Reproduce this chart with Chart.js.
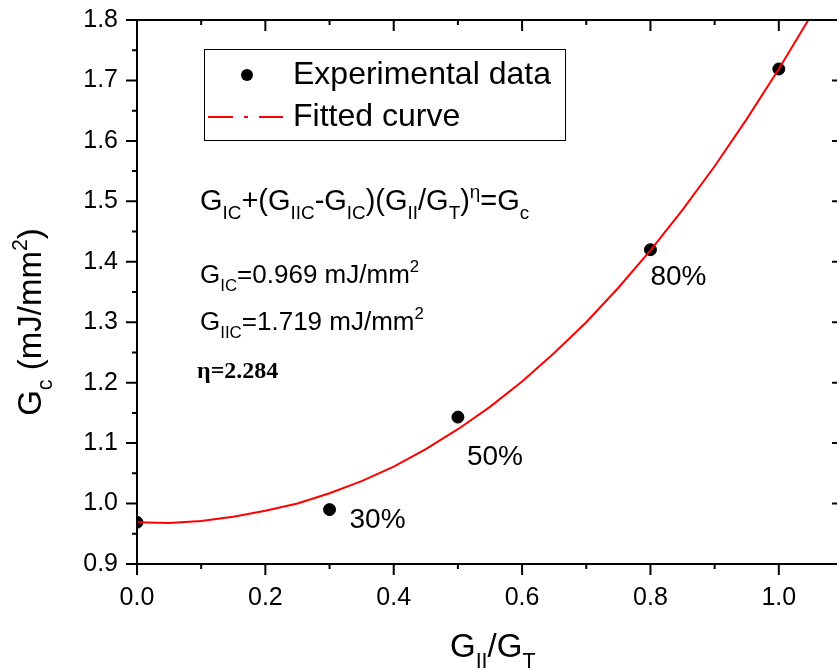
<!DOCTYPE html>
<html>
<head>
<meta charset="utf-8">
<script src="https://cdn.jsdelivr.net/npm/chart.js@4.4.1/dist/chart.umd.min.js"></script>
<style>
  html, body { margin: 0; padding: 0; background: #fff; overflow: hidden; }
  #wrap { width: 850px; height: 670px; }
</style>
</head>
<body>
<div id="wrap"><canvas id="grafico" width="850" height="670"></canvas></div>
<script>
// dados experimentais (G_II/G_T, Gc)
const ratios = [0, 0.3, 0.5, 0.8, 1.0];
const gcMeasured = [0.969, 0.99, 1.143, 1.42, 1.719];
const pointLabels = ["", "30%", "50%", "80%", ""];

// curva ajustada
const fitX = [0, 0.05, 0.1, 0.15, 0.2, 0.25, 0.3, 0.35, 0.4, 0.45, 0.5, 0.55,
              0.6, 0.65, 0.7, 0.75, 0.8, 0.85, 0.9, 0.95, 1.0, 1.05];
const fitY = [0.969, 0.968, 0.971, 0.978, 0.988, 1.000, 1.017, 1.037, 1.061, 1.090, 1.123, 1.160,
              1.202, 1.249, 1.300, 1.357, 1.419, 1.486, 1.558, 1.636, 1.719, 1.807];

const xTicks = [0, 0.2, 0.4, 0.6, 0.8, 1.0];
const yTicks = [0.9, 1.0, 1.1, 1.2, 1.3, 1.4, 1.5, 1.6, 1.7, 1.8];

const FONT = "'Liberation Sans', Arial, sans-serif";
const labelOffsets = [[0, 0], [20, 18], [9, 48], [0, 35], [0, 0]];

// desenha texto com subscrito / sobrescrito
function textoRico(ctx, x, y, partes, size, family, weight) {
  family = family || FONT;
  weight = weight || "normal";
  ctx.textBaseline = "alphabetic";
  ctx.textAlign = "left";
  partes.forEach(p => {
    let s = size, dy = 0;
    if (p[1] === "sub") { s = size * 0.65; dy = size * 0.32; }
    if (p[1] === "sup") { s = size * 0.65; dy = -size * 0.42; }
    ctx.font = weight + " " + s + "px " + family;
    ctx.fillText(p[0], x, y + dy);
    x += ctx.measureText(p[0]).width;
  });
  return x;
}

function larguraRica(ctx, partes, size) {
  let w = 0;
  partes.forEach(p => {
    let s = (p[1] === "sub" || p[1] === "sup") ? size * 0.65 : size;
    ctx.font = s + "px " + FONT;
    w += ctx.measureText(p[0]).width;
  });
  return w;
}

const molduraPlugin = {
  id: "moldura",
  afterDraw(chart) {
    const ctx = chart.ctx;
    const a = chart.chartArea;
    const xs = chart.scales.x, ys = chart.scales.y;
    ctx.save();
    ctx.strokeStyle = "#000";
    ctx.lineWidth = 2;
    ctx.strokeRect(a.left, a.top, a.right - a.left, a.bottom - a.top);

    // ticks do eixo x (baixo para fora, topo para dentro)
    for (let i = 0; i <= 11; i++) {
      const v = i / 10;
      const px = xs.getPixelForValue(v);
      const len = (i % 2 === 0) ? 11 : 5;
      ctx.beginPath();
      ctx.moveTo(px, a.bottom); ctx.lineTo(px, a.bottom + len);
      ctx.moveTo(px, a.top); ctx.lineTo(px, a.top + len);
      ctx.stroke();
    }
    // ticks do eixo y
    for (let i = 0; i <= 18; i++) {
      const v = 0.9 + i * 0.05;
      const py = ys.getPixelForValue(v);
      const len = (i % 2 === 0) ? 11 : 5;
      ctx.beginPath();
      ctx.moveTo(a.left - len, py); ctx.lineTo(a.left, py);
      ctx.moveTo(a.right - len, py); ctx.lineTo(a.right, py);
      ctx.stroke();
    }

    // legenda
    ctx.lineWidth = 1;
    ctx.strokeStyle = "#000";
    ctx.strokeRect(204.5, 49.5, 361, 91);
    ctx.fillStyle = "#000";
    ctx.beginPath();
    ctx.arc(247, 75, 6, 0, Math.PI * 2);
    ctx.fill();
    ctx.strokeStyle = "#ff0000";
    ctx.lineWidth = 2;
    ctx.setLineDash([25, 11, 4, 11, 25]);
    ctx.beginPath();
    ctx.moveTo(208, 117); ctx.lineTo(283, 117);
    ctx.stroke();
    ctx.setLineDash([]);
    ctx.fillStyle = "#000";
    ctx.font = "32px " + FONT;
    ctx.textBaseline = "middle";
    ctx.fillText("Experimental data", 293, 75);
    ctx.fillText("Fitted curve", 293, 117);

    // equacao e parametros
    textoRico(ctx, 200, 210, [["G", "n"], ["IC", "sub"], ["+(G", "n"], ["IIC", "sub"], ["-G", "n"],
      ["IC", "sub"], [")(G", "n"], ["II", "sub"], ["/G", "n"], ["T", "sub"], [")", "n"], ["\u03b7", "sup"],
      ["=G", "n"], ["c", "sub"]], 29);
    textoRico(ctx, 200, 283, [["G", "n"], ["IC", "sub"], ["=0.969 mJ/mm", "n"], ["2", "sup"]], 26);
    textoRico(ctx, 200, 330, [["G", "n"], ["IIC", "sub"], ["=1.719 mJ/mm", "n"], ["2", "sup"]], 26);
    textoRico(ctx, 197, 378, [["\u03b7=2.284", "n"]], 24, "'Liberation Serif', 'Times New Roman', serif", "bold");

    // rotulos dos pontos
    ctx.font = "28px " + FONT;
    ctx.textBaseline = "alphabetic";
    ratios.forEach((r, i) => {
      if (!pointLabels[i]) return;
      const px = xs.getPixelForValue(r) + labelOffsets[i][0];
      const py = ys.getPixelForValue(gcMeasured[i]) + labelOffsets[i][1];
      ctx.fillText(pointLabels[i], px, py);
    });

    // titulos dos eixos
    const tituloX = [["G", "n"], ["II", "sub"], ["/G", "n"], ["T", "sub"]];
    textoRico(ctx, 450, 657, tituloX, 33);

    const tituloY = [["G", "n"], ["c", "sub"], [" (mJ/mm", "n"], ["2", "sup"], [")", "n"]];
    const wY = larguraRica(ctx, tituloY, 33);
    ctx.translate(41, 322);
    ctx.rotate(-Math.PI / 2);
    textoRico(ctx, -wY / 2, 0, tituloY, 33);
    ctx.restore();
  }
};

function inicializarGrafico() {
  const ctx = document.getElementById("grafico").getContext("2d");

  new Chart(ctx, {
    type: "scatter",
    data: {
      datasets: [{
        label: "Fitted curve",
        type: "line",
        data: fitX.map((x, i) => ({ x: x, y: fitY[i] })),
        borderColor: "#ff0000",
        borderWidth: 2,
        pointRadius: 0,
        tension: 0,
        fill: false,
        order: 0
      }, {
        label: "Experimental data",
        data: ratios.map((x, i) => ({ x: x, y: gcMeasured[i] })),
        backgroundColor: "#000",
        borderColor: "#000",
        pointRadius: 6,
        showLine: false,
        order: 1
      }]
    },
    options: {
      responsive: false,
      animation: false,
      devicePixelRatio: 1,
      layout: { padding: { top: 20, right: 6, left: 0, bottom: 0 } },
      plugins: {
        legend: { display: false },
        tooltip: { enabled: false }
      },
      scales: {
        x: {
          type: "linear",
          min: 0, max: 1.1,
          afterFit: s => { s.height = 106; s.paddingLeft = 0; s.paddingRight = 0; },
          afterBuildTicks: s => { s.ticks = xTicks.map(v => ({ value: v })); },
          grid: { display: false, drawTicks: false },
          border: { display: false },
          ticks: {
            padding: 19,
            color: "#000",
            font: { family: FONT, size: 25 },
            callback: v => Number(v).toFixed(1)
          }
        },
        y: {
          type: "linear",
          min: 0.9, max: 1.8,
          afterFit: s => { s.width = 137; s.paddingTop = 0; s.paddingBottom = 0; },
          afterBuildTicks: s => { s.ticks = yTicks.map(v => ({ value: v })); },
          grid: { display: false, drawTicks: false },
          border: { display: false },
          ticks: {
            padding: 19,
            color: "#000",
            font: { family: FONT, size: 25 },
            callback: v => Number(v).toFixed(1)
          }
        }
      }
    },
    plugins: [molduraPlugin]
  });
}

document.addEventListener("DOMContentLoaded", inicializarGrafico);
</script>
</body>
</html>
